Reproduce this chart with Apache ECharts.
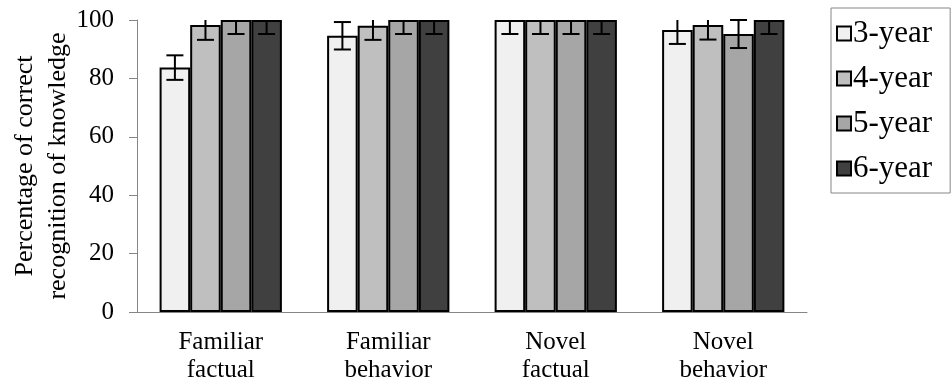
<!DOCTYPE html>
<html>
<head>
<meta charset="utf-8">
<script src="https://cdn.jsdelivr.net/npm/echarts@6/dist/echarts.min.js"></script>
<style>
html,body{margin:0;padding:0;background:#fff;}
#chart{width:951px;height:386px;}
</style>
</head>
<body>
<div id="chart"></div>
<script>
const categories = ['Familiar\nfactual', 'Familiar\nbehavior', 'Novel\nfactual', 'Novel\nbehavior'];
const seriesNames = ['3-year', '4-year', '5-year', '6-year'];
const values3 = [83.7, 94.6, 100, 96.6];
const values4 = [98.3, 98.0, 100, 98.3];
const values5 = [100, 100, 100, 95.2];
const values6 = [100, 100, 100, 100];
const errors3 = [4.2, 4.7, 4.8, 4.8];
const errors4 = [5.1, 4.8, 4.8, 5.0];
const errors5 = [4.8, 4.8, 4.8, 4.8];
const errors6 = [4.8, 4.8, 4.8, 4.8];
const yTicks = [0, 20, 40, 60, 80, 100];

const colors = ['#f0f0f0', '#bfbfbf', '#a6a6a6', '#404040'];
const allValues = [values3, values4, values5, values6];
const allErrors = [errors3, errors4, errors5, errors6];
const FONT = '"Liberation Serif", "Times New Roman", serif';
const GROUP = 0.73;
const YMAX = yTicks[yTicks.length - 1];

const chart = echarts.init(document.getElementById('chart'));

const series = [];
seriesNames.forEach((name, i) => {
  series.push({
    name: name,
    type: 'bar',
    data: allValues[i],
    barGap: '0%',
    barCategoryGap: '27%',
    itemStyle: { color: colors[i], borderColor: '#000', borderWidth: 2 },
    emphasis: { disabled: true }
  });
});
seriesNames.forEach((name, i) => {
  series.push({
    type: 'custom',
    name: name + ' err',
    data: allValues[i].map((v, k) => [k, v, allErrors[i][k]]),
    z: 10,
    silent: true,
    renderItem: function (params, api) {
      const k = api.value(0), v = api.value(1), e = api.value(2);
      const band = api.size([1, 0])[0];
      const bw = band * GROUP / 4;
      const c = api.coord([k, v]);
      const x = c[0] + (i - 1.5) * bw;
      const hi = Math.min(v + e, YMAX);
      const lo = v - e;
      const pHi = api.coord([k, hi])[1];
      const pLo = api.coord([k, lo])[1];
      const cap = 8.5;
      const st = { stroke: '#000', lineWidth: 2 };
      const children = [
        { type: 'line', shape: { x1: x, y1: pHi, x2: x, y2: pLo }, style: st },
        { type: 'line', shape: { x1: x - cap, y1: pLo, x2: x + cap, y2: pLo }, style: st }
      ];
      if (v + e <= YMAX) {
        children.push({ type: 'line', shape: { x1: x - cap, y1: pHi, x2: x + cap, y2: pHi }, style: st });
      }
      return { type: 'group', children: children };
    }
  });
});

chart.setOption({
  animation: false,
  backgroundColor: '#fff',
  textStyle: { fontFamily: FONT },
  grid: { left: 137, right: 144, top: 20, bottom: 74, containLabel: false, outerBoundsMode: 'none' },
  legend: {
    data: seriesNames,
    orient: 'vertical',
    left: 831,
    top: 8,
    padding: [10, 18, 9, 5],
    borderColor: '#868686',
    borderWidth: 1,
    itemWidth: 14,
    itemHeight: 14,
    itemGap: 14,
    icon: 'rect',
    selectedMode: false,
    textStyle: { fontFamily: FONT, fontSize: 31, color: '#000', lineHeight: 30, padding: [0, 0, 0, -3] }
  },
  xAxis: {
    type: 'category',
    data: categories,
    axisLine: { show: true, lineStyle: { color: '#868686', width: 1 } },
    axisTick: { show: false },
    axisLabel: { fontFamily: FONT, fontSize: 25, color: '#000', lineHeight: 28, margin: 16, interval: 0 }
  },
  yAxis: {
    type: 'value',
    min: 0,
    max: YMAX,
    interval: 20,
    name: 'Percentage of correct\nrecognition of knowledge',
    nameLocation: 'middle',
    nameGap: 62,
    nameMoveOverlap: false,
    nameTextStyle: { fontFamily: FONT, fontSize: 26, color: '#000', lineHeight: 33 },
    axisLine: { show: true, lineStyle: { color: '#868686', width: 1 } },
    axisTick: { show: true, inside: false, length: 8, lineStyle: { color: '#868686' } },
    splitLine: { show: false },
    axisLabel: { fontFamily: FONT, fontSize: 25, color: '#000', margin: 23,
      formatter: function (v) { return yTicks.indexOf(v) >= 0 ? String(v) : ''; } }
  },
  series: series
});
</script>
</body>
</html>
